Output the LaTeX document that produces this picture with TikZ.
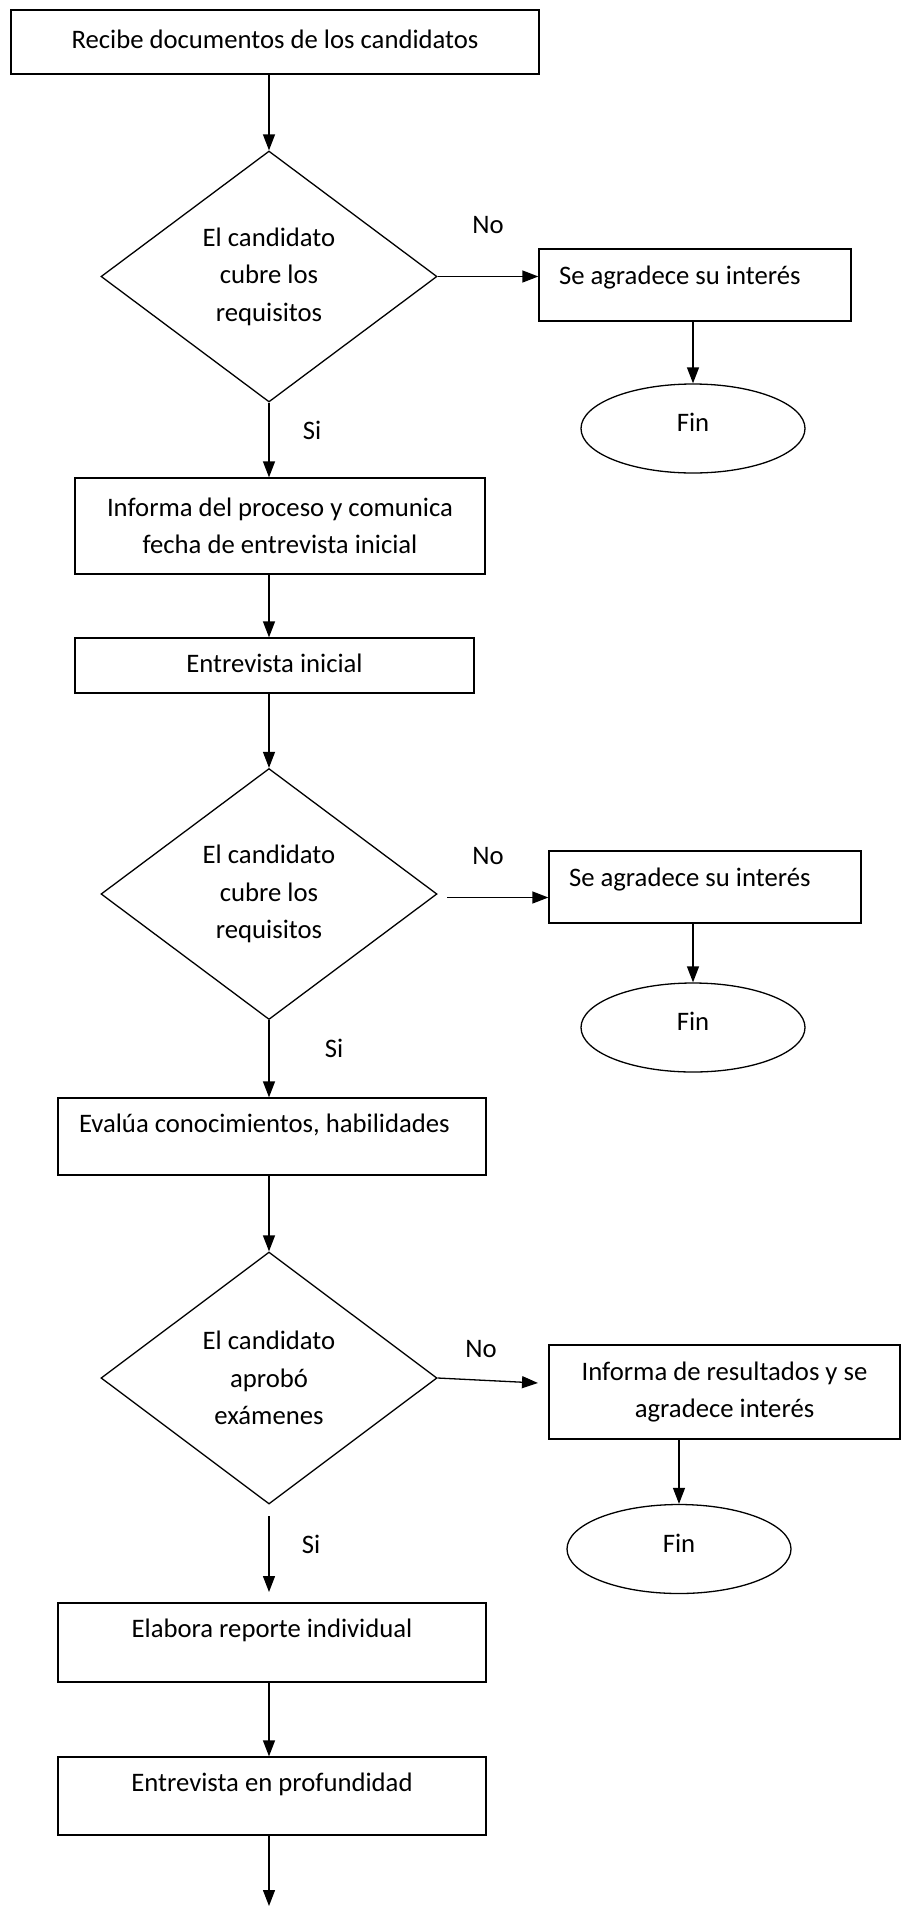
\documentclass[tikz,border=0pt]{standalone}
\usepackage{fontspec}
\setmainfont{Carlito}
\usetikzlibrary{shapes.geometric,arrows.meta,calc}
\begin{document}
\begin{tikzpicture}[x=1pt,y=-1pt,
  every node/.style={font=\fontsize{26.7}{37.5}\selectfont},
  box/.style={draw,line width=1.3pt,rectangle,inner sep=0pt,align=center},
  single/.style={text height=19.2pt,text depth=5.9pt},
  dec/.style={draw,line width=1.3pt,diamond,inner sep=0pt,align=center,minimum width=336pt,minimum height=251pt},
  endnode/.style={draw,line width=1.3pt,ellipse,inner sep=0pt,minimum width=224pt,minimum height=89pt,text height=19.2pt,text depth=12.9pt},
  lbl/.style={inner sep=0pt},
  arr/.style={line width=1.3pt,-{Triangle[length=16pt,width=12pt]}}
]
\useasboundingbox (0,0) rectangle (906,1906);
% nodes
\node[box,single,minimum width=528pt,minimum height=64pt] (b1) at (275,42) {Recibe documentos de los candidatos};
\node[dec] (d1) at (269,276.5) {El candidato\\cubre los\\requisitos};
\node[lbl] (no1) at (488,225) {No};
\node[box,single,minimum width=312pt,minimum height=72pt,text width=272pt,align=flush left,text depth=19.9pt] (b2) at (695,285) {Se agradece su interés};
\node[endnode] (e1) at (693,428.5) {Fin};
\node[lbl] (si1) at (312,430) {Si};
\node[box,minimum width=410pt,minimum height=96pt] (b3) at (280,526) {Informa del proceso y comunica\\fecha de entrevista inicial};
\node[box,single,minimum width=399pt,minimum height=55pt] (b4) at (274.5,665.5) {Entrevista inicial};
\node[dec] (d2) at (269,894) {El candidato\\cubre los\\requisitos};
\node[lbl] (no2) at (488,856) {No};
\node[box,single,minimum width=312pt,minimum height=72pt,text width=272pt,align=flush left,text depth=19.9pt] (b5) at (705,887) {Se agradece su interés};
\node[endnode] (e2) at (693,1027.5) {Fin};
\node[lbl] (si2) at (334,1048) {Si};
\node[box,single,minimum width=428pt,minimum height=77pt,text width=386pt,align=flush left,text depth=26.9pt] (b6) at (272,1136.5) {Evalúa conocimientos, habilidades};
\node[dec,minimum height=252pt] (d3) at (269,1378) {El candidato\\aprobó\\exámenes};
\node[lbl] (no3) at (481,1349) {No};
\node[box,minimum width=351pt,minimum height=94pt] (b7) at (724.5,1392) {Informa de resultados y se\\agradece interés};
\node[endnode] (e3) at (679,1549) {Fin};
\node[lbl] (si3) at (311,1544) {Si};
\node[box,single,minimum width=428pt,minimum height=79pt,text depth=28.9pt] (b8) at (272,1642.5) {Elabora reporte individual};
\node[box,single,minimum width=428pt,minimum height=78pt,text depth=27.9pt] (b9) at (272,1796) {Entrevista en profundidad};
% free coordinates
\coordinate (c2) at (447,897.5);
\coordinate (c3) at (538,1383);
\coordinate (c4s) at (269,1516);
\coordinate (c4e) at (269,1592);
\coordinate (endp) at (269,1906);
% connectors
\draw[arr] (b1.south -| d1.north) -- (d1.north);
\draw[arr] (d1.east) -- (d1.east -| b2.west);
\draw[arr] (b2.south -| e1.north) -- (e1.north);
\draw[arr] (d1.south) -- (d1.south |- b3.north);
\draw[arr] (b3.south -| d1.south) -- (b4.north -| d1.south);
\draw[arr] (b4.south -| d2.north) -- (d2.north);
\draw[arr] (c2) -- (c2 -| b5.west);
\draw[arr] (b5.south -| e2.north) -- (e2.north);
\draw[arr] (d2.south) -- (d2.south |- b6.north);
\draw[arr] (b6.south -| d3.north) -- (d3.north);
\draw[arr] (d3.east) -- (c3);
\draw[arr] (b7.south -| e3.north) -- (e3.north);
\draw[arr] (c4s) -- (c4e);
\draw[arr] (b8.south -| d3.south) -- (b9.north -| d3.south);
\draw[arr] (b9.south -| d3.south) -- (endp);
\end{tikzpicture}
\end{document}
